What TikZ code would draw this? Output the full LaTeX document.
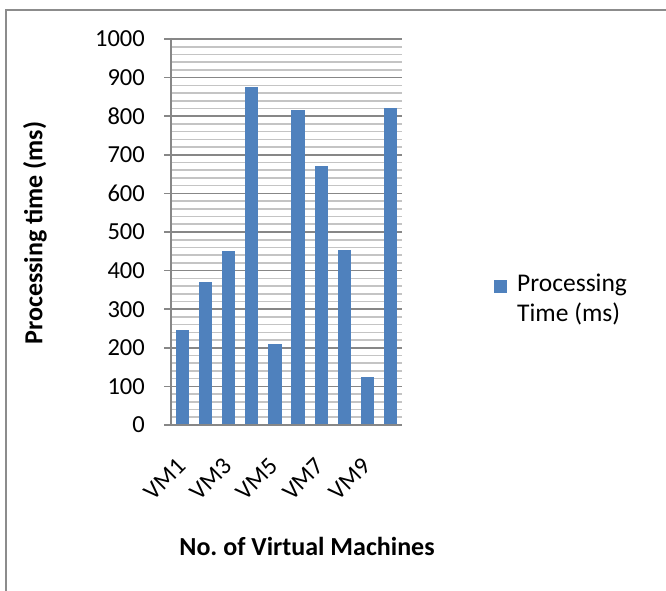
\documentclass[tikz,border=0pt]{standalone}
\usepackage{fontspec}
\setmainfont{Carlito}
\usetikzlibrary{positioning}
\frenchspacing
\definecolor{barblue}{HTML}{4F81BD}
\definecolor{gridmajor}{HTML}{878787}
\definecolor{gridminor}{HTML}{C4C4C4}
\definecolor{framegrey}{HTML}{8C8C8C}
\tikzset{
  frame/.style={draw=framegrey, line width=2pt},
  majorgrid/.style={gridmajor, line width=1.6pt},
  minorgrid/.style={gridminor, line width=1.6pt},
  axisline/.style={gridmajor, line width=2pt},
  bar/.style={fill=barblue},
  ticklabel/.style={anchor=east, inner sep=0pt, font=\fontsize{24.5}{28}\selectfont},
  catlabel/.style={anchor=east, rotate=45, inner sep=0pt, font=\fontsize{24.5}{28}\selectfont},
  axistitle/.style={inner sep=0pt, font=\bfseries\fontsize{26}{30}\selectfont},
  legendtext/.style={anchor=north west, align=left, inner sep=0pt, font=\fontsize{25.5}{30}\selectfont},
}

\begin{document}
\begin{tikzpicture}[x=1pt, y=-1pt]
\useasboundingbox (0,0) rectangle (666,591);
% outer chart frame
\draw[frame] (6,600) |- (680,10);

% gridlines, every 20 ms
\foreach \v in {20,40,...,980} {
  \draw[minorgrid] (171,{425-0.386*\v}) -- (402,{425-0.386*\v});
}
\foreach \v in {0,100,...,1000} {
  \draw[majorgrid] (164,{425-0.386*\v}) -- (402,{425-0.386*\v});
  \node[ticklabel] (tick\v) at (145,{425-0.386*\v}) {\v};
}

% bars
\foreach \v [count=\i] in {246,370,451,875,211,815,672,453,124,822} {
  \pgfmathsetmacro{\xl}{171+(\i-1)*23.1+4.95}
  \fill[bar] (\xl,425) rectangle ({\xl+13.2},{425-0.386*\v});
}
\draw[axisline] (171,425) -- (402,425);
\draw[axisline] (171,38) -- (171,425);

% category labels
\foreach \i in {1,3,5,7,9} {
  \node[catlabel] (cat\i) at ({171+(\i-0.5)*23.1-1},462) {VM\i};
}

% axis titles
\node[axistitle, rotate=90] (ytitle) at (35,233) {Processing time (ms)};
\node[axistitle] (xtitle) at (307,546) {No. of Virtual Machines};

% legend
\fill[bar] (494,280) rectangle (507,293) coordinate (key);
\node[legendtext] (legend) at (517,274) {Processing\\Time (ms)};
\end{tikzpicture}
\end{document}
